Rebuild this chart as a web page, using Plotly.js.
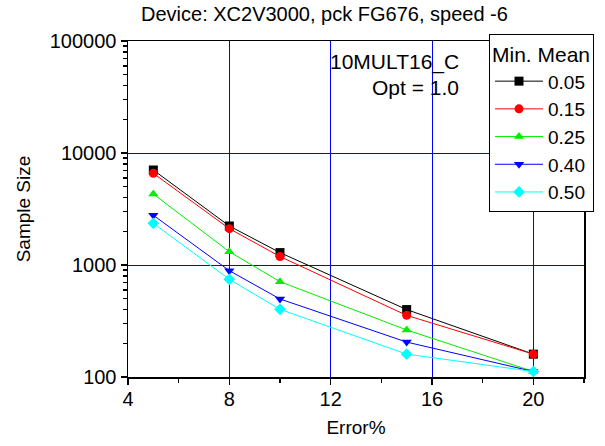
<!DOCTYPE html>
<html><head><meta charset="utf-8">
<script src="https://cdn.plot.ly/plotly-3.0.1.min.js"></script>
<style>body{margin:0;background:#fff}#c{width:605px;height:446px}</style>
</head><body><div id="c"></div>
<script>
const errorPct = [5, 8, 10, 15, 20];
const seriesNames = ['0.05', '0.15', '0.25', '0.40', '0.50'];
const s005 = [7050, 2230, 1290, 400, 160];
const s015 = [6580, 2110, 1190, 355, 160];
const s025 = [4300, 1315, 710, 263, 112];
const s040 = [2780, 890, 497, 205, 112];
const s050 = [2355, 745, 402, 160, 112];
const yTickVals = [100, 1000, 10000, 100000];
const yTickText = ['100', '1000', '10000', '100000'];

const colors = ['#000000', '#ff0000', '#00ee00', '#0000ff', '#00ffff'];
const symbols = ['square', 'circle', 'triangle-up', 'triangle-down', 'diamond'];
const allSeries = [s005, s015, s025, s040, s050];

const traces = allSeries.map((ys, i) => ({
  x: errorPct, y: ys, name: seriesNames[i], type: 'scatter', mode: 'lines+markers',
  line: {color: colors[i], width: 1},
  marker: {symbol: symbols[i], color: colors[i], size: 9},
  cliponaxis: false
}));

const font = 'Liberation Sans, Arial, sans-serif';
const layout = {
  width: 605, height: 446,
  margin: {l: 128, r: 20, t: 41, b: 69},
  paper_bgcolor: '#fff', plot_bgcolor: '#fff',
  font: {family: font, size: 20, color: '#000'},
  showlegend: true,
  xaxis: {
    range: [4, 22], tick0: 4, dtick: 4, ticks: 'outside', ticklen: 6, tickwidth: 1.5,
    tickcolor: '#000', showline: true, linecolor: '#000', linewidth: 1.5, mirror: true,
    showgrid: true, gridcolor: 'rgb(0,0,255)', gridwidth: 1, zeroline: false,
    minor: {dtick: 2, tick0: 4, ticks: 'outside', ticklen: 4, tickcolor: '#000', showgrid: false},
    title: {text: 'Error%', font: {size: 19}, standoff: 12},
    tickfont: {size: 20}, ticklabelstandoff: -3
  },
  yaxis: {
    type: 'log', range: [2, 5], tickvals: yTickVals, ticktext: yTickText,
    ticks: 'outside', ticklen: 6, tickwidth: 1.5, tickcolor: '#000',
    showline: true, linecolor: '#000', linewidth: 1.5, mirror: true,
    showgrid: true, gridcolor: 'rgb(0,0,255)', gridwidth: 1, zeroline: false,
    minor: {dtick: 'D1', ticks: 'outside', ticklen: 4, tickcolor: '#000', showgrid: false},
    title: {text: 'Sample Size', font: {size: 19}, standoff: 14},
    tickfont: {size: 20}
  },
  legend: {
    x: (489 - 128) / 457, y: (377 - 34) / 336, xanchor: 'left', yanchor: 'top',
    bgcolor: '#fff', bordercolor: '#000', borderwidth: 1,
    title: {text: 'Min. Mean', font: {size: 21}},
    font: {size: 19}, tracegroupgap: 0, itemwidth: 48
  },
  annotations: [
    {xref: 'paper', yref: 'paper', x: (325 - 128) / 457, y: (377 - 14) / 336, xanchor: 'center', yanchor: 'middle',
     text: 'Device: XC2V3000, pck FG676, speed -6', showarrow: false, font: {size: 20}},
    {xref: 'paper', yref: 'paper', x: (462 - 128) / 457, y: (377 - 62) / 336, xanchor: 'right', yanchor: 'middle',
     text: '10MULT16_C', showarrow: false, font: {size: 21}},
    {xref: 'paper', yref: 'paper', x: (462 - 128) / 457, y: (377 - 88) / 336, xanchor: 'right', yanchor: 'middle',
     text: 'Opt = 1.0', showarrow: false, font: {size: 21}}
  ]
};
Plotly.newPlot('c', traces, layout, {displayModeBar: false, staticPlot: true});
</script></body></html>
